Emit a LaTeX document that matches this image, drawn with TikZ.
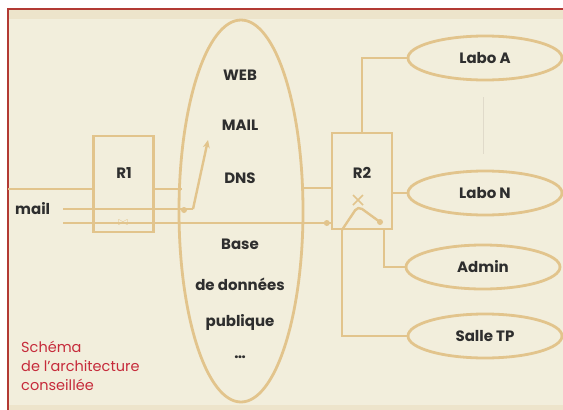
\documentclass[tikz,border=0pt]{standalone}
\usepackage{fontspec}
\setmainfont{Poppins}
\usetikzlibrary{shapes.geometric,arrows.meta,calc}
\definecolor{bgc}{HTML}{F2EEDC}
\definecolor{bandc}{HTML}{EDE4CB}
\definecolor{linec}{HTML}{E2C48C}
\definecolor{framec}{HTML}{B23A34}
\definecolor{txtc}{HTML}{2E2E2E}
\definecolor{redt}{HTML}{C62B3B}
\definecolor{faint}{HTML}{E0DACA}
\begin{document}
\begin{tikzpicture}[x=1pt,y=-1pt,
  wire/.style={draw=linec, line width=2.4pt},
  oval/.style={ellipse, draw=linec, line width=2.8pt, minimum width=154pt, minimum height=44pt, inner sep=0pt, font=\fontsize{15}{17}\selectfont\bfseries, text=txtc},
  router/.style={draw=linec, line width=2.4pt, minimum width=60pt, minimum height=96pt, inner sep=0pt},
  lbl/.style={font=\fontsize{15}{17}\selectfont\bfseries, text=txtc, inner sep=0pt},
  dotc/.style={circle, fill=linec, inner sep=0pt, minimum size=6pt}]
% frame
\useasboundingbox (0,0) rectangle (563,410);
\fill[white] (0,0) rectangle (563,410);
\fill[bgc] (8,9) rectangle (563,410);
\fill[bandc] (8,9) rectangle (563,19);
\fill[bandc] (8,405) rectangle (563,410);
\draw[framec, line width=1.5pt] (8,410) -- (8,9) -- (563,9);
% big ellipse
\node[ellipse, draw=linec, line width=2.8pt, minimum width=124pt, minimum height=382pt, inner sep=0pt] (srv) at (241,211) {};
\node[lbl] (web) at (240,75) {WEB};
\node[lbl] (mailsrv) at (240,125) {MAIL};
\node[lbl] (dns) at (240,178) {DNS};
\node[lbl] (base) at (240,244) {Base};
\node[lbl] (donnees) at (240,284) {de données};
\node[lbl] (publique) at (240,322) {publique};
\node[lbl] (dots) at (240,357) {\dots};
% routers
\node[router] (r1) at (123.5,184) {};
\node[lbl] (r1l) at (124,173) {R1};
\node[router] (r2) at (362,181) {};
\node[lbl] (r2l) at (362,173) {R2};
% sites
\node[oval] (laboA) at (485,58) {Labo A};
\node[oval] (laboN) at (485,193) {Labo N};
\node[oval] (admin) at (483,267) {Admin};
\node[oval] (salle) at (485,336) {Salle TP};
\draw[faint, line width=1pt] (laboA.south) ++(-2,16) coordinate (fa) -- ($(laboN.north)+(-2,-16)$) coordinate (fb);
% coordinates
\coordinate (inl) at (8,189);
\coordinate (el1) at (182,189);
\coordinate (er1) at (302,188);
\coordinate (mailst) at (63,209);
\coordinate (mailturn) at (193,209);
\coordinate (arrtip) at (208,140);
\coordinate (lowst) at (63,223);
\coordinate (adm) at ($(r2.south east)+(-9,0)$);
\coordinate (sal) at ($(r2.south west)+(11,0)$);
\coordinate (peak) at (358,206);
\coordinate (pend) at (380,222);
% wires
\draw[wire] (inl) -- (inl -| r1.west);
\draw[wire] (inl -| r1.east) -- (el1);
\draw[wire] (er1) -- (er1 -| r2.west);
\draw[wire] (mailst) -- (mailturn);
\draw[wire, -{Stealth[length=8pt,width=7pt]}] (mailturn) -- (arrtip);
\draw[wire] (lowst) -- (lowst -| r2.west);
\node[dotc] (d1) at (184,210) {};
\node[dotc] (d2) at ($(lowst -| r2.west)+(-4,0)$) {};
\node[text=linec, inner sep=0pt, font=\fontsize{12}{12}\selectfont] (bow) at (123,223) {$\bowtie$};
\draw[wire] (r2.north) |- (laboA.west);
\draw[wire] (laboN.west -| r2.east) -- (laboN.west);
\draw[wire] (adm) |- (admin.west);
\draw[wire] (sal) |- (salle.west);
\draw[wire, rounded corners=5pt] (sal) -- (peak) -- (pend);
\node[dotc] (d3) at (pend) {};
\draw[linec, line width=1.6pt] (353,195) -- (363,205) (363,195) -- (353,205);
% texts
\node[lbl, anchor=west] (mail) at (15,209) {mail};
\node[anchor=north west, align=left, inner sep=0pt, text=redt, font=\fontsize{14.5}{19}\selectfont] (caption) at (21,341) {Schéma\\de l’architecture\\conseillée};
\end{tikzpicture}
\end{document}
